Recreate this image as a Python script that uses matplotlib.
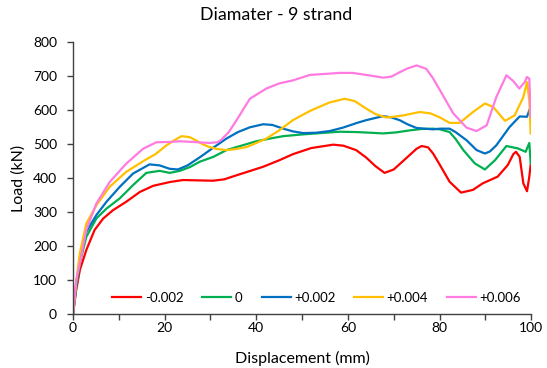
import matplotlib.pyplot as plt
from matplotlib.ticker import MultipleLocator

plt.rcParams['font.family'] = ['Lato', 'DejaVu Sans']

# load-displacement curves, one per strain offset
labels = ['-0.002', '0', '+0.002', '+0.004', '+0.006']
colors = ['#FF0000', '#00B050', '#0070C0', '#FFC000', '#FF7BE1']

x_m002 = [0, 0.7, 1.5, 2.9, 4.7, 6.6, 8.7, 11.6, 14.6, 17.5, 21.1, 24, 27, 30.6, 33, 35.7,
          38.5, 41.5, 45, 48, 52, 56.8, 59, 61.8, 64, 66, 68, 70, 72.8, 75, 76.1, 77.5,
          78.6, 80.1, 82.2, 84.7, 87.3, 89.4, 92.7, 94.9, 96.1, 96.7, 97.5, 98.3, 99.1,
          99.6, 99.9]
y_m002 = [0, 71, 130, 188, 247, 281, 305, 330, 359, 377, 388, 394, 393, 392, 396, 408,
          420, 433, 452, 470, 488, 498, 495, 482, 460, 435, 415, 425, 459, 486, 494, 490,
          472, 438, 389, 357, 365, 384, 404, 438, 470, 477, 462, 384, 361, 404, 438]

x_0 = [0, 0.7, 1.5, 2.9, 5.1, 7.3, 10.2, 13.1, 16, 18.9, 21.1, 23.3, 25.5, 27.7, 30.6,
       33.5, 37, 40, 43, 45.9, 50, 56, 58.2, 62, 65, 67.7, 70.5, 73.5, 76, 78.6, 80.1,
       82.2, 83.5, 85.2, 87.7, 89.9, 92.1, 94.6, 97.1, 98.8, 99.6, 99.9]
y_0 = [0, 80, 150, 227, 281, 310, 340, 379, 415, 421, 415, 421, 432, 448, 462,
       482, 496, 508, 516, 523, 528, 534, 536, 535, 533, 531, 534, 540, 544, 545, 543,
       535, 515, 482, 443, 425, 452, 494, 487, 477, 503, 443]

x_p002 = [0, 0.7, 1.5, 2.9, 5.1, 7.3, 10.2, 13.1, 16.7, 18.9, 21.1, 22.9, 25, 27.7, 30.5,
          33.5, 36, 38.6, 41.5, 43.5, 45.9, 48, 50.2, 53, 56, 58.9, 62, 64, 67.7, 69.5,
          71.3, 73, 75, 78.6, 80.1, 82.2, 83.5, 85.9, 88.1, 89.9, 91, 92.4, 95.3, 97.5,
          99.1, 99.6]
y_p002 = [0, 88, 165, 242, 291, 330, 374, 413, 440, 437, 427, 425, 437, 461, 488,
          516, 535, 549, 558, 556, 545, 537, 532, 533, 538, 548, 562, 570, 582, 578,
          570, 558, 547, 543, 545, 545, 535, 511, 482, 472, 478, 496, 550, 581,
          580, 599]

x_p004 = [0, 0.7, 1.5, 2.9, 5.1, 8, 11.6, 16, 18, 20.4, 22, 23.7, 25.5, 26.9, 28.5, 29.8,
          31.5, 33.5, 35.5, 37.9, 40, 42.2, 45, 48, 51.7, 54.6, 56, 59.3, 61.5, 64, 66,
          68.4, 70, 72.1, 75.7, 78, 80.1, 82.2, 84.4, 87.3, 89.9, 91.7, 94.3, 96.4, 98.3,
          99.1, 99.6, 99.9]
y_p004 = [0, 95, 180, 266, 320, 374, 418, 455, 470, 496, 510, 523, 520, 510, 498, 491,
          485, 482, 485, 491, 503, 516, 540, 570, 597, 614, 622, 633, 626, 604, 588,
          578, 580, 584, 594, 590, 578, 562, 562, 594, 619, 609, 568, 584, 638,
          682, 628, 531]

x_p006 = [0, 0.7, 1.5, 2.9, 5.1, 8, 11.6, 15.3, 18.2, 21.1, 23.3, 26, 29.8, 31.5, 32.4, 34,
          35.7, 38.6, 42.2, 45, 48, 51.7, 55, 58.2, 61, 64, 67.7, 69.5, 71.3, 73, 75,
          77.1, 78.5, 80.1, 83, 85.9, 88.1, 90.3, 92.4, 94.6, 96.1, 97.4, 98.6, 99.1,
          99.6, 99.9]
y_p006 = [0, 100, 149, 247, 325, 388, 442, 486, 505, 506, 508, 506, 503, 505, 513, 535,
          570, 633, 663, 678, 687, 703, 706, 709, 709, 703, 695, 698, 711, 722, 731,
          721, 695, 658, 590, 548, 538, 555, 638, 702, 685, 663, 682, 697,
          692, 580]

series = [(x_m002, y_m002), (x_0, y_0), (x_p002, y_p002), (x_p004, y_p004), (x_p006, y_p006)]

fig = plt.figure(figsize=(5.47, 3.68), dpi=100)
ax = fig.add_axes([0.1335, 0.1467, 0.8375, 0.7393])

for (xs, ys), lab, col in zip(series, labels, colors):
    ax.plot(xs, ys, color=col, lw=1.6, label=lab, solid_joinstyle='round')

ax.set_xlim(0, 100)
ax.set_ylim(0, 800)
ax.xaxis.set_major_locator(MultipleLocator(20))
ax.xaxis.set_minor_locator(MultipleLocator(10))
ax.yaxis.set_major_locator(MultipleLocator(100))

for side in ['top', 'right']:
    ax.spines[side].set_visible(False)
for side in ['left', 'bottom']:
    ax.spines[side].set_color('#404040')
    ax.spines[side].set_linewidth(1.0)
ax.tick_params(which='both', direction='out', length=4, width=1.0, color='#404040',
               labelsize=10, labelcolor='#000000')
ax.tick_params(axis='x', which='both', pad=2)
ax.tick_params(axis='y', pad=7.5)

ax.set_xlabel('Displacement (mm)', fontsize=11.5, va='center')
ax.xaxis.set_label_coords(0.5, -0.165)
ax.set_ylabel('Load (kN)', fontsize=11.5, va='center')
ax.yaxis.set_label_coords(-0.12, 0.5)

# chart title is centred on the whole figure, not the plot area
fig.text(0.505, 0.959, 'Diamater - 9 strand', fontsize=12.8, ha='center', va='center')

ax.legend(loc='center', bbox_to_anchor=(0.532, 0.059), ncol=5, frameon=False,
          fontsize=9.5, handlelength=2.2, handletextpad=0.25, columnspacing=1.45)

fig.savefig('out.png', dpi=100)
